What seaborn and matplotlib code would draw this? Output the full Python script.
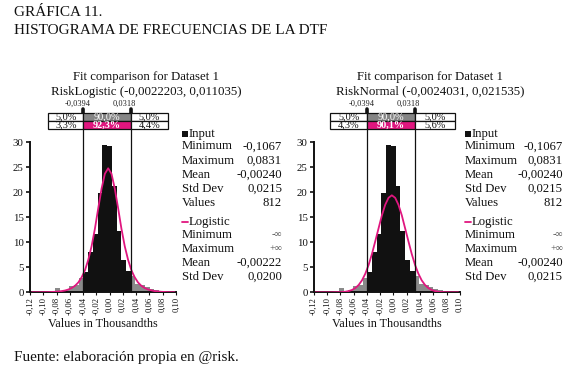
import numpy as np
import pandas as pd
import matplotlib
matplotlib.use("Agg")
import matplotlib.pyplot as plt
import seaborn as sns
from matplotlib.patches import Rectangle
from matplotlib.lines import Line2D
from matplotlib.transforms import blended_transform_factory

# ---------------- data ----------------
bin_edges = [-0.1106, -0.1035, -0.0964, -0.0892, -0.0821, -0.0750, -0.0679, -0.0608,
             -0.0536, -0.0465, -0.0394, -0.0323, -0.0252, -0.0180, -0.0109, -0.0038,
             0.0033, 0.0105, 0.0176, 0.0247, 0.0318, 0.0389, 0.0460, 0.0532,
             0.0603, 0.0674, 0.0745, 0.0816, 0.0887]
bin_heights = [0.15, 0.0, 0.3, 0.0, 0.8, 0.3, 0.5, 1.2, 1.5, 2.8,
               4.1, 8.0, 11.7, 19.9, 29.5, 29.3, 21.2, 12.2, 6.5, 4.2,
               3.3, 1.6, 1.4, 1.1, 0.6, 0.5, 0.3, 0.2]
p5, p95 = -0.0394, 0.0318

logis_x = [-0.1172, -0.1022, -0.0922, -0.0822, -0.0772, -0.0722, -0.0672, -0.0622,
           -0.0572, -0.0522, -0.0472, -0.0422, -0.0372, -0.0322, -0.0272, -0.0222,
           -0.0172, -0.0122, -0.0072, -0.0022, 0.0028, 0.0078, 0.0128, 0.0178,
           0.0228, 0.0278, 0.0328, 0.0378, 0.0428, 0.0478, 0.0528, 0.0578,
           0.0678, 0.0778, 0.0878, 0.0978]
logis_y = [0.005, 0.02, 0.04, 0.10, 0.15, 0.24, 0.36, 0.56,
           0.86, 1.30, 1.97, 3.0, 4.4, 6.5, 9.2, 12.7,
           16.8, 20.7, 23.7, 24.8, 23.7, 20.7, 16.8, 12.7,
           9.2, 6.5, 4.4, 3.0, 1.97, 1.30, 0.86, 0.56,
           0.24, 0.10, 0.04, 0.02]

normal_x = [-0.1174, -0.1024, -0.0924, -0.0824, -0.0774, -0.0724, -0.0674, -0.0624,
            -0.0574, -0.0524, -0.0474, -0.0424, -0.0374, -0.0324, -0.0274, -0.0224,
            -0.0174, -0.0124, -0.0074, -0.0024, 0.0026, 0.0076, 0.0126, 0.0176,
            0.0226, 0.0276, 0.0326, 0.0376, 0.0426, 0.0476, 0.0526, 0.0576,
            0.0626, 0.0676, 0.0726, 0.0776, 0.0876, 0.0976]
normal_y = [0.0, 0.0, 0.005, 0.03, 0.06, 0.12, 0.25, 0.47,
            0.85, 1.47, 2.39, 3.72, 5.47, 7.66, 10.2, 12.8,
            15.4, 17.5, 18.9, 19.4, 18.9, 17.5, 15.4, 12.8,
            10.2, 7.66, 5.47, 3.72, 2.39, 1.47, 0.85, 0.47,
            0.25, 0.12, 0.06, 0.03, 0.005, 0.0]

x_ticks = [-0.12, -0.10, -0.08, -0.06, -0.04, -0.02, 0.00, 0.02, 0.04, 0.06, 0.08, 0.10]
x_ticklabels = ["-0,12", "-0,10", "-0,08", "-0,06", "-0,04", "-0,02",
                "0,00", "0,02", "0,04", "0,06", "0,08", "0,10"]
y_ticks = [0, 5, 10, 15, 20, 25, 30]

titles = [("Fit comparison for Dataset 1", "RiskLogistic (-0,0022203, 0,011035)"),
          ("Fit comparison for Dataset 1", "RiskNormal (-0,0024031, 0,021535)")]
pct_top = ["5,0%", "90,0%", "5,0%"]
pct_bottom = [["3,3%", "92,3%", "4,4%"], ["4,3%", "90,1%", "5,6%"]]
p_labels = ["-0,0394", "0,0318"]

input_labels = ["Minimum", "Maximum", "Mean", "Std Dev", "Values"]
input_values = ["-0,1067", "0,0831", "-0,00240", "0,0215", "812"]
fit_labels = ["Minimum", "Maximum", "Mean", "Std Dev"]
fit_values = [["-\u221e", "+\u221e", "-0,00222", "0,0200"],
              ["-\u221e", "+\u221e", "-0,00240", "0,0215"]]

# ---------------- style ----------------
sns.set_theme(style="ticks")
plt.rcParams["font.family"] = ["Liberation Serif", "DejaVu Serif"]
plt.rcParams["axes.linewidth"] = 1.4

W, H = 575, 385
fig = plt.figure(figsize=(W / 100, H / 100), dpi=100)
fig.patch.set_facecolor("white")

def fx(px):
    return px / W

def fy(py):
    return 1 - py / H

def rect(l, t, r, b):
    return [fx(l), fy(b), (r - l) / W, (b - t) / H]

PINK = "#e0167f"
GRAY = "#8a8a8a"
INK = "#111111"
LEG_FS = 9.2

centers = [(bin_edges[i] + bin_edges[i + 1]) / 2 for i in range(len(bin_heights))]
regions = ["in" if p5 < c < p95 else "out" for c in centers]
hist_df = pd.DataFrame({"x": centers, "h": bin_heights, "region": regions})

panels = [
    dict(left=30.0, curve_x=logis_x, curve_y=logis_y, box=(-0.0925, 0.0885),
         legend_x=182, legend_r=282),
    dict(left=313.8, curve_x=normal_x, curve_y=normal_y, box=(-0.0955, 0.0925),
         legend_x=465, legend_r=563),
]

AX_TOP, AX_BOT = 142.3, 292.3
for k, p in enumerate(panels):
    ax = fig.add_axes(rect(p["left"], AX_TOP, p["left"] + 146, AX_BOT))
    ax.set_facecolor("white")
    sns.histplot(data=hist_df, x="x", weights="h", bins=bin_edges, hue="region",
                 palette={"in": INK, "out": GRAY}, multiple="layer",
                 alpha=1, linewidth=0, legend=False, stat="count", ax=ax, zorder=2)
    sns.lineplot(x=p["curve_x"], y=p["curve_y"], color=PINK, lw=1.3, ax=ax,
                 zorder=4, sort=False)
    ax.set_xlim(-0.12, 0.10)
    ax.set_ylim(0, 30)
    ax.set_xticks(x_ticks)
    ax.set_xticklabels(x_ticklabels, rotation=90, fontsize=6.2)
    ax.set_yticks(y_ticks)
    ax.set_yticklabels([str(v) for v in y_ticks], fontsize=7.8)
    ax.tick_params(axis="y", direction="out", length=3, width=1.2, pad=1.5, colors=INK)
    ax.tick_params(axis="x", direction="out", length=2, width=0.8, pad=1.5, colors=INK)
    ax.set_xlabel("")
    ax.set_ylabel("")
    sns.despine(ax=ax)
    for s in ("left", "bottom"):
        ax.spines[s].set_color(INK)

    # percentile lines
    for xv in (p5, p95):
        ax.axvline(xv, ymin=0, ymax=(AX_BOT - 109) / (AX_BOT - AX_TOP), color=INK,
                   lw=0.9, clip_on=False, zorder=5)
        ax.axvline(xv, ymin=(AX_BOT - 112.5) / (AX_BOT - AX_TOP),
                   ymax=(AX_BOT - 108.5) / (AX_BOT - AX_TOP), color=INK,
                   lw=2.6, clip_on=False, zorder=5)

    trans = blended_transform_factory(ax.transData, fig.transFigure)
    for lab, xv in zip(p_labels, (p5, p95)):
        ax.text(xv - 0.009, fy(103.5), lab, transform=trans, ha="center", va="center",
                fontsize=6.0, color="#222222")

    # percentile box
    b0, b1 = p["box"]
    cols = [(b0, p5), (p5, p95), (p95, b1)]
    rows = [(112.5, 120.5), (120.5, 128.5)]
    fills = [["white", "#858585", "white"], ["white", PINK, "white"]]
    texts = [pct_top, pct_bottom[k]]
    for ri, (t, b) in enumerate(rows):
        for ci, (c0, c1) in enumerate(cols):
            ax.add_patch(Rectangle((c0, fy(b)), c1 - c0, (b - t) / H, transform=trans,
                                   facecolor=fills[ri][ci], edgecolor=INK, lw=0.9,
                                   clip_on=False, zorder=6))
            col = "white" if ci == 1 else INK
            ax.text((c0 + c1) / 2, fy((t + b) / 2 + 0.4), texts[ri][ci], transform=trans,
                    ha="center", va="center", fontsize=7.4, color=col, zorder=7,
                    fontweight="bold" if (ci == 1 and ri == 1) else "normal")

    # titles
    cx = p["left"] + 116
    fig.text(fx(cx), fy(77), titles[k][0], ha="center", va="center", fontsize=9.2, color=INK)
    fig.text(fx(cx), fy(91.5), titles[k][1], ha="center", va="center", fontsize=9.3, color=INK)

    # x label
    fig.text(fx(p["left"] + 73), fy(324), "Values in Thousandths", ha="center", va="center",
             fontsize=8.7, color=INK)

    # legend block
    lx, lr = p["legend_x"], p["legend_r"]
    fig.add_artist(Rectangle((fx(lx), fy(137)), 6 / W, 6.5 / H, transform=fig.transFigure,
                             facecolor=INK, edgecolor="none"))
    fig.text(fx(lx + 7), fy(133.5), "Input", ha="left", va="center", fontsize=LEG_FS, color=INK)
    for i, (lab, val) in enumerate(zip(input_labels, input_values)):
        yy = 146.5 + 14 * i
        fig.text(fx(lx), fy(yy), lab, ha="left", va="center", fontsize=LEG_FS, color=INK)
        fig.text(fx(lr), fy(yy), val, ha="right", va="center", fontsize=LEG_FS, color=INK)
    fig.add_artist(Line2D([fx(lx), fx(lx + 6)], [fy(222), fy(222)], transform=fig.transFigure,
                          color=PINK, lw=1.3))
    fig.text(fx(lx + 6.5), fy(222), "Logistic", ha="left", va="center", fontsize=LEG_FS, color=INK)
    for i, (lab, val) in enumerate(zip(fit_labels, fit_values[k])):
        yy = 234.5 + 14 * i
        fig.text(fx(lx), fy(yy), lab, ha="left", va="center", fontsize=LEG_FS, color=INK)
        small = i < 2
        fig.text(fx(lr), fy(yy), val, ha="right", va="center",
                 fontsize=7.2 if small else LEG_FS, color="#555555" if small else INK)

# header and footer
fig.text(fx(14), fy(13), "GRÁFICA 11.", ha="left", va="center", fontsize=11, color=INK)
fig.text(fx(14), fy(30), "HISTOGRAMA DE FRECUENCIAS DE LA DTF", ha="left", va="center",
         fontsize=11, color=INK)
fig.text(fx(14), fy(358), "Fuente: elaboración propia en @risk.", ha="left", va="center",
         fontsize=10.9, color=INK)

fig.savefig("out.png", dpi=100, facecolor="white")
